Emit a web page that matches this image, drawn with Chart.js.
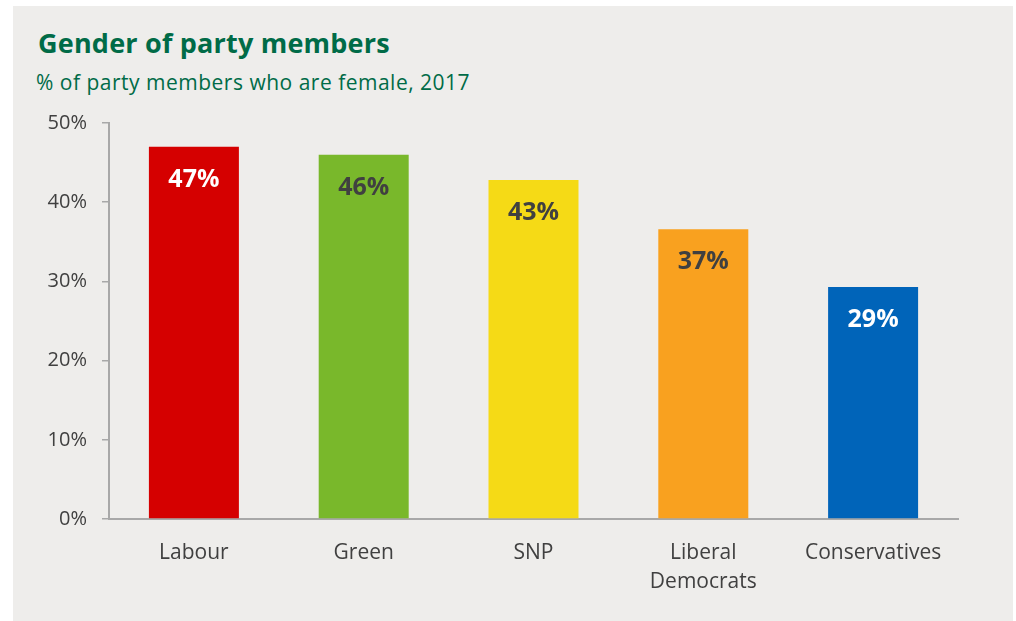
<!DOCTYPE html>
<html>
<head>
<meta charset="utf-8">
<script src="https://cdn.jsdelivr.net/npm/chart.js@4"></script>
<style>
  html, body { margin: 0; padding: 0; background: #ffffff; }
  #panel { position: absolute; left: 13px; top: 6px; width: 1000px; height: 615px; background: #eeedeb; }
  #title { position: absolute; left: 38px; top: 24px; font: bold 27px 'Open Sans', sans-serif; color: #006b47; white-space: nowrap; letter-spacing: 0.2px; }
  #subtitle { position: absolute; left: 36px; top: 68px; font: 21px 'Open Sans', sans-serif; color: #006b47; white-space: nowrap; letter-spacing: 0.5px; }
  #wrap { position: absolute; left: 0; top: 0; width: 1016px; height: 621px; }
</style>
</head>
<body>
<div id="panel"></div>
<div id="title">Gender of party members</div>
<div id="subtitle">% of party members who are female, 2017</div>
<div id="wrap"><canvas id="bar-chart"></canvas></div>
<script>
// Bar chart
// ------------------------------
var parties = ["Labour", "Green", "SNP", ["Liberal", "Democrats"], "Conservatives"];
var femaleShare = [47.0, 46.0, 42.8, 36.6, 29.3];
var barColors = ['#d50000', '#79b82b', '#f5da16', '#f9a11f', '#0064b9'];
var labelColors = ['#ffffff', '#404040', '#404040', '#404040', '#ffffff'];
var yTicks = [0, 10, 20, 30, 40, 50];

// value labels drawn just inside the top of each bar
var valueLabels = {
    id: 'valueLabels',
    afterDatasetsDraw: function(chart) {
        var ctx = chart.ctx;
        var meta = chart.getDatasetMeta(0);
        ctx.save();
        ctx.font = "bold 25px 'Open Sans', sans-serif";
        ctx.textAlign = 'center';
        ctx.textBaseline = 'middle';
        meta.data.forEach(function(bar, i) {
            ctx.fillStyle = labelColors[i];
            ctx.fillText(Math.round(femaleShare[i]) + '%', bar.x, bar.y + 33);
        });
        ctx.restore();
    }
};

var ctx = document.getElementById('bar-chart');

var chartData = {
    labels: parties,
    datasets: [{
        data: femaleShare,
        backgroundColor: barColors,
        borderWidth: 0,
        categoryPercentage: 1,
        barPercentage: 0.53
    }]
};

var chartOptions = {
    responsive: true,
    maintainAspectRatio: false,
    animation: false,
    layout: { padding: { top: 123, right: 58, left: 0, bottom: 0 } },
    plugins: {
        legend: { display: false },
        tooltip: { enabled: false }
    },
    scales: {
        x: {
            grid: { display: false },
            border: { display: true, color: '#a8a8a8', width: 2 },
            ticks: {
                color: '#404040',
                font: { family: "'Open Sans'", size: 21, lineHeight: 1.38 },
                padding: 12,
                maxRotation: 0
            },
            afterFit: function(scale) { scale.height = 102; }
        },
        y: {
            min: 0,
            max: 50,
            afterBuildTicks: function(scale) {
                scale.ticks = yTicks.map(function(v) { return { value: v }; });
            },
            grid: { drawOnChartArea: false, drawTicks: true, tickLength: 7, color: '#a8a8a8', lineWidth: 1.5 },
            border: { display: true, color: '#a8a8a8', width: 2 },
            ticks: {
                color: '#404040',
                font: { family: "'Open Sans'", size: 20 },
                padding: 15,
                callback: function(v) { return v + '%'; }
            },
            afterFit: function(scale) { scale.width = 109; }
        }
    }
};

new Chart(ctx, {
    type: 'bar',
    data: chartData,
    options: chartOptions,
    plugins: [valueLabels]
});
</script>
</body>
</html>
